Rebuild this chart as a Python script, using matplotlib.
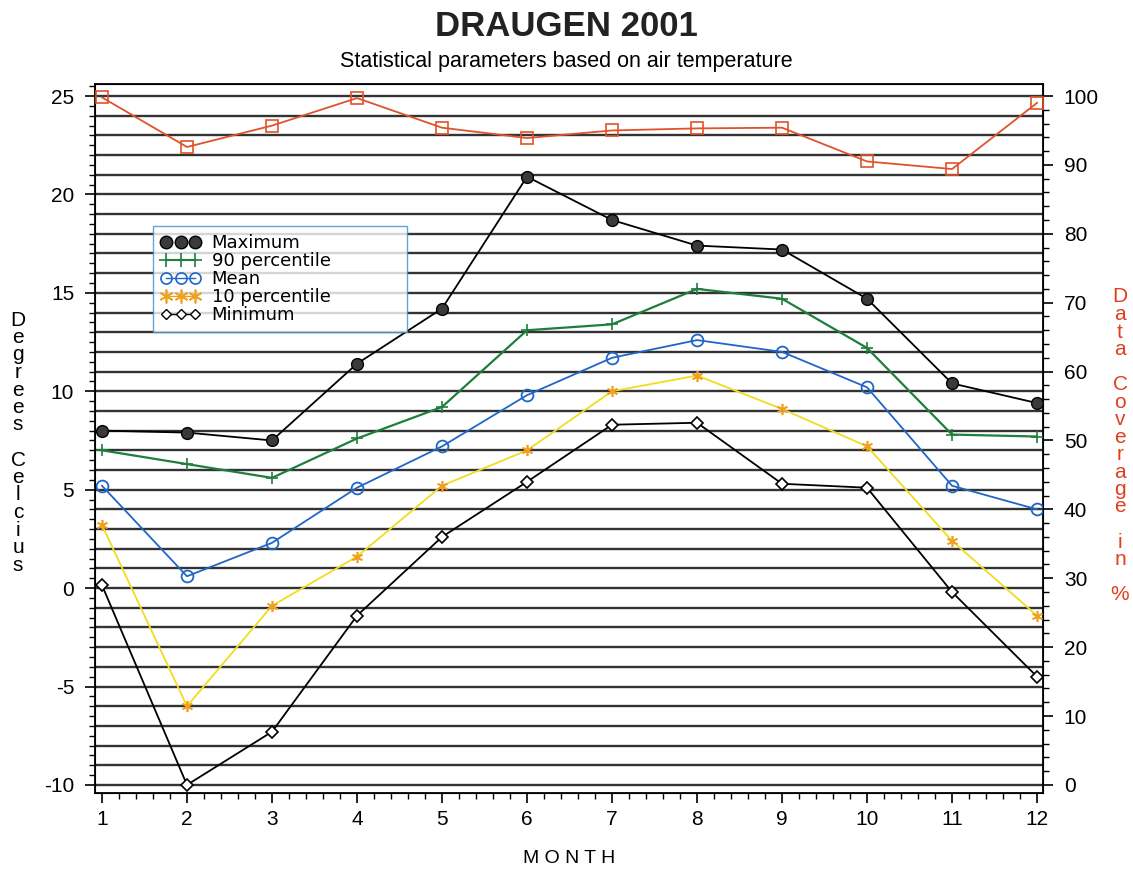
import matplotlib
matplotlib.use("Agg")
import matplotlib.pyplot as plt
import numpy as np
from matplotlib.lines import Line2D
from matplotlib.ticker import MultipleLocator

plt.rcParams['font.family'] = ['Liberation Sans', 'DejaVu Sans']
plt.rcParams['axes.unicode_minus'] = False

months = [1, 2, 3, 4, 5, 6, 7, 8, 9, 10, 11, 12]
maximum = [8.0, 7.9, 7.5, 11.4, 14.2, 20.9, 18.7, 17.4, 17.2, 14.7, 10.4, 9.4]
p90 = [7.0, 6.3, 5.6, 7.6, 9.2, 13.1, 13.4, 15.2, 14.7, 12.2, 7.8, 7.7]
mean = [5.2, 0.6, 2.3, 5.1, 7.2, 9.8, 11.7, 12.6, 12.0, 10.2, 5.2, 4.0]
p10 = [3.2, -6.0, -0.9, 1.6, 5.2, 7.0, 10.0, 10.8, 9.1, 7.2, 2.4, -1.4]
minimum = [0.15, -10.0, -7.3, -1.4, 2.6, 5.4, 8.3, 8.4, 5.3, 5.1, -0.2, -4.5]
coverage = [99.8, 92.6, 95.7, 99.7, 95.4, 93.9, 95.0, 95.3, 95.4, 90.5, 89.4, 99.0]

labels = ["Maximum", "90 percentile", "Mean", "10 percentile", "Minimum"]

W, H = 1133, 871
fig = plt.figure(figsize=(W / 100, H / 100), dpi=100)
ax_l, ax_r, ax_t, ax_b = 95, 1043, 84, 793
ax = fig.add_axes([ax_l / W, 1 - ax_b / H, (ax_r - ax_l) / W, (ax_b - ax_t) / H])

ylo, yhi = -10.41, 25.61
ax.set_ylim(ylo, yhi)
ax.set_xlim(0.918, 12.07)

# horizontal grid every degree
ax.hlines(np.arange(-10, 26, 1), 0, 1, transform=ax.get_yaxis_transform(),
          color='#333333', lw=1.7, zorder=1)

ax.set_yticks(np.arange(-10, 26, 5))
ax.yaxis.set_minor_locator(MultipleLocator(0.5))
ax.set_xticks(months)
ax.xaxis.set_minor_locator(MultipleLocator(0.2))
ax.tick_params(axis='both', which='major', direction='out', length=7, width=1.2,
               labelsize=15, colors='black')
ax.tick_params(axis='both', which='minor', direction='out', length=4, width=1.0)
ax.tick_params(axis='x', pad=5)
ax.tick_params(axis='y', pad=8)
for s in ax.spines.values():
    s.set_linewidth(1.3)

lw = 1.3
ax.plot(months, maximum, color='black', lw=lw, marker='o', ms=8.5,
        mfc='#3a3a3a', mec='black', zorder=5)
ax.plot(months, p90, color='#1e7f3c', lw=lw + 0.3, marker='+', ms=9, mew=1.2,
        zorder=5)
ax.plot(months, mean, color='#1f66c8', lw=lw, marker='o', ms=8.5,
        mfc='none', mec='#1f66c8', mew=1.3, zorder=5)
ax.plot(months, p10, color='#f2dc1e', lw=lw, marker=(6, 2, 0), ms=8,
        mec='#f0a020', mew=1.2, zorder=5)
ax.plot(months, minimum, color='black', lw=lw, marker='D', ms=6.5,
        mfc='white', mec='black', mew=1.2, zorder=5)

# right axis: data coverage
axr = ax.twinx()
axr.set_ylim((ylo + 10) / 35 * 100, (yhi + 10) / 35 * 100)
axr.plot(months, coverage, color='#e0522a', lw=1.3, marker='s', ms=8,
         mfc='none', mec='#e0522a', mew=1.2, zorder=5)
axr.set_yticks(np.arange(0, 101, 10))
axr.yaxis.set_minor_locator(MultipleLocator(2))
axr.tick_params(axis='y', which='major', direction='out', length=7, width=1.2,
                labelsize=15, pad=8)
axr.tick_params(axis='y', which='minor', direction='out', length=4, width=1.0)

# legend
handles = [
    Line2D([], [], color='none', marker='o', ms=9, mfc='#3a3a3a', mec='black'),
    Line2D([], [], color='#1e7f3c', lw=1.5, marker='+', ms=10, mew=1.2),
    Line2D([], [], color='#1f66c8', lw=1.0, marker='o', ms=8, mfc='none', mec='#1f66c8', mew=1.2),
    Line2D([], [], color='#f0a020', lw=1.0, marker=(6, 2, 0), ms=10, mec='#f0a020', mew=1.2),
    Line2D([], [], color='black', lw=1.0, marker='D', ms=5.5, mfc='white', mec='black', mew=1.0),
]
leg_w, leg_h = 254 / 948, 104 / 709
leg = ax.legend(handles, labels, loc='upper left',
                bbox_to_anchor=(0.061, 0.80 - leg_h, leg_w, leg_h), mode='expand',
                borderaxespad=0, numpoints=3, handlelength=2.2, handletextpad=0.6,
                labelspacing=0.0, frameon=True, fancybox=False, borderpad=0.45,
                prop={'family': 'DejaVu Sans', 'size': 13})
leg.get_frame().set_edgecolor('#3a8fd0')
leg.get_frame().set_linewidth(1.0)
leg.set_zorder(10)

# titles
fig.text(0.5, 1 - 27 / H, "DRAUGEN 2001", ha='center', va='center',
         fontsize=25, fontweight='bold',
         family=['Liberation Sans Narrow', 'Liberation Sans', 'DejaVu Sans'],
         color='#222222')
fig.text(0.5, 1 - 61 / H, "Statistical parameters based on air temperature",
         ha='center', va='center', fontsize=15.5)
fig.text((ax_l + ax_r) / 2 / W, 1 - 858 / H, "M O N T H", ha='center', va='center',
         fontsize=14)

# stacked vertical labels
left_lab = "Degrees Celcius"
for i, ch in enumerate(left_lab):
    fig.text(18 / W, 1 - (320 + 17.5 * i) / H, ch, ha='center', va='center',
             fontsize=15)
right_lab = "Data Coverage in %"
for i, ch in enumerate(right_lab):
    fig.text(1120 / W, 1 - (297 + 17.5 * i) / H, ch, ha='center', va='center',
             fontsize=15, color='#e0401e')

fig.savefig("out.png", dpi=100)
